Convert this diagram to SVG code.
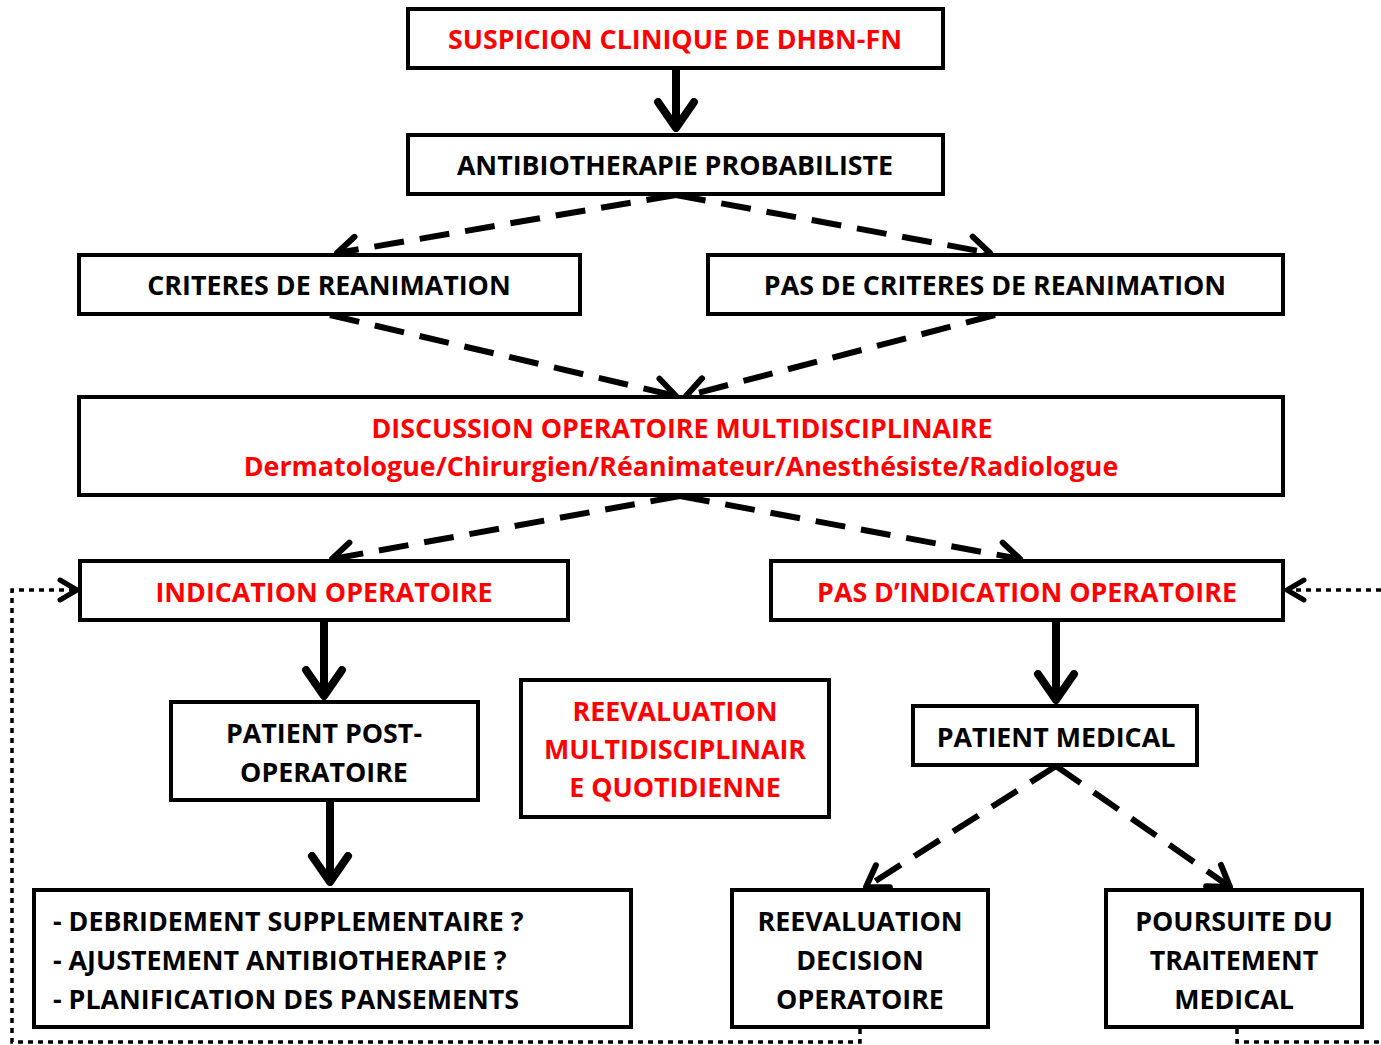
<svg xmlns="http://www.w3.org/2000/svg" width="1381" height="1045" viewBox="0 0 1381 1045">
<style>
.box{fill:#fff;stroke:#000;stroke-width:4}
.t{font-family:"Open Sans","Liberation Sans",sans-serif;font-weight:bold;font-size:26.8px;text-anchor:middle;fill:#000}
.r{fill:#ff0000}
.l{text-anchor:start}
.solid{stroke:#000;stroke-width:8;fill:none}
.dash{stroke:#000;stroke-width:6;fill:none;stroke-dasharray:30 16}
.dot{stroke:#000;stroke-width:3.5;fill:none;stroke-dasharray:5 5}
</style>
<defs>
<marker id="hs" markerUnits="userSpaceOnUse" viewBox="-30 -25 34 50" refX="0" refY="0" markerWidth="34" markerHeight="50" orient="auto">
<path d="M-26,-18 L0,0 L-26,18" fill="none" stroke="#000" stroke-width="8" stroke-linecap="round" stroke-linejoin="round"/>
</marker>
<marker id="hd" markerUnits="userSpaceOnUse" viewBox="-30 -20 34 40" refX="0" refY="0" markerWidth="34" markerHeight="40" orient="auto">
<path d="M-20,-13 L0,0 L-20,13" fill="none" stroke="#000" stroke-width="6" stroke-linecap="round" stroke-linejoin="round"/>
</marker>
<marker id="ht" markerUnits="userSpaceOnUse" viewBox="-24 -16 28 32" refX="0" refY="0" markerWidth="28" markerHeight="32" orient="auto">
<path d="M-17,-10 L0,0 L-17,10" fill="none" stroke="#000" stroke-width="5" stroke-linecap="round" stroke-linejoin="round"/>
</marker>
</defs>

<g id="connectors">
<line class="solid" x1="676" y1="68" x2="676" y2="128" marker-end="url(#hs)"/>
<line class="solid" x1="324" y1="620" x2="324" y2="696" marker-end="url(#hs)"/>
<line class="solid" x1="1056" y1="620" x2="1056" y2="700" marker-end="url(#hs)"/>
<line class="solid" x1="330" y1="800" x2="330" y2="882" marker-end="url(#hs)"/>
<line class="dash" x1="676" y1="195" x2="337" y2="253" marker-end="url(#hd)"/>
<line class="dash" x1="676" y1="195" x2="990" y2="253" marker-end="url(#hd)"/>
<line class="dash" x1="330" y1="315" x2="676" y2="396" marker-end="url(#hd)"/>
<line class="dash" x1="995" y1="315" x2="686" y2="396" marker-end="url(#hd)"/>
<line class="dash" x1="680" y1="496" x2="332" y2="559" marker-end="url(#hd)"/>
<line class="dash" x1="680" y1="496" x2="1020" y2="559" marker-end="url(#hd)"/>
<line class="dash" x1="1056" y1="766" x2="866" y2="887" marker-end="url(#hd)"/>
<line class="dash" x1="1056" y1="766" x2="1230" y2="887" marker-end="url(#hd)"/>
<path class="dot" d="M860,1029 V1042 H12 V590 H77" marker-end="url(#ht)"/>
<path class="dot" d="M1237,1029 V1042 H1381"/>
<path class="dot" d="M1381,590 H1287" marker-end="url(#ht)"/>
</g>

<g id="n1"><rect class="box" x="408" y="9" width="535" height="59"/><text class="t r" x="675" y="49">SUSPICION CLINIQUE DE DHBN-FN</text></g>
<g id="n2"><rect class="box" x="408" y="135" width="535" height="59"/><text class="t" x="675" y="175">ANTIBIOTHERAPIE PROBABILISTE</text></g>
<g id="n3"><rect class="box" x="79" y="255" width="501" height="59"/><text class="t" x="329" y="295">CRITERES DE REANIMATION</text></g>
<g id="n4"><rect class="box" x="708" y="255" width="575" height="59"/><text class="t" x="995" y="295">PAS DE CRITERES DE REANIMATION</text></g>
<g id="n5"><rect class="box" x="79" y="397" width="1204" height="98"/><text class="t r" x="682" y="438">DISCUSSION OPERATOIRE MULTIDISCIPLINAIRE</text><text class="t r" x="681" y="476">Dermatologue/Chirurgien/Réanimateur/Anesthésiste/Radiologue</text></g>
<g id="n6"><rect class="box" x="80" y="561" width="488" height="59"/><text class="t r" x="324" y="602">INDICATION OPERATOIRE</text></g>
<g id="n7"><rect class="box" x="771" y="561" width="512" height="59"/><text class="t r" x="1027" y="602">PAS D’INDICATION OPERATOIRE</text></g>
<g id="n8"><rect class="box" x="171" y="702" width="307" height="98"/><text class="t" x="324" y="743">PATIENT POST-</text><text class="t" x="324" y="782">OPERATOIRE</text></g>
<g id="n9"><rect class="box" x="521" y="680" width="308" height="137"/><text class="t r" x="675" y="721">REEVALUATION</text><text class="t r" x="675" y="759">MULTIDISCIPLINAIR</text><text class="t r" x="675" y="797">E QUOTIDIENNE</text></g>
<g id="n10"><rect class="box" x="913" y="706" width="284" height="59"/><text class="t" x="1056" y="747">PATIENT MEDICAL</text></g>
<g id="n11"><rect class="box" x="34" y="890" width="597" height="137"/><text class="t l" x="53" y="931">- DEBRIDEMENT SUPPLEMENTAIRE ?</text><text class="t l" x="53" y="970">- AJUSTEMENT ANTIBIOTHERAPIE ?</text><text class="t l" x="53" y="1009">- PLANIFICATION DES PANSEMENTS</text></g>
<g id="n12"><rect class="box" x="732" y="890" width="256" height="137"/><text class="t" x="860" y="931">REEVALUATION</text><text class="t" x="860" y="970">DECISION</text><text class="t" x="860" y="1009">OPERATOIRE</text></g>
<g id="n13"><rect class="box" x="1106" y="890" width="256" height="137"/><text class="t" x="1234" y="931">POURSUITE DU</text><text class="t" x="1234" y="970">TRAITEMENT</text><text class="t" x="1234" y="1009">MEDICAL</text></g>
</svg>
